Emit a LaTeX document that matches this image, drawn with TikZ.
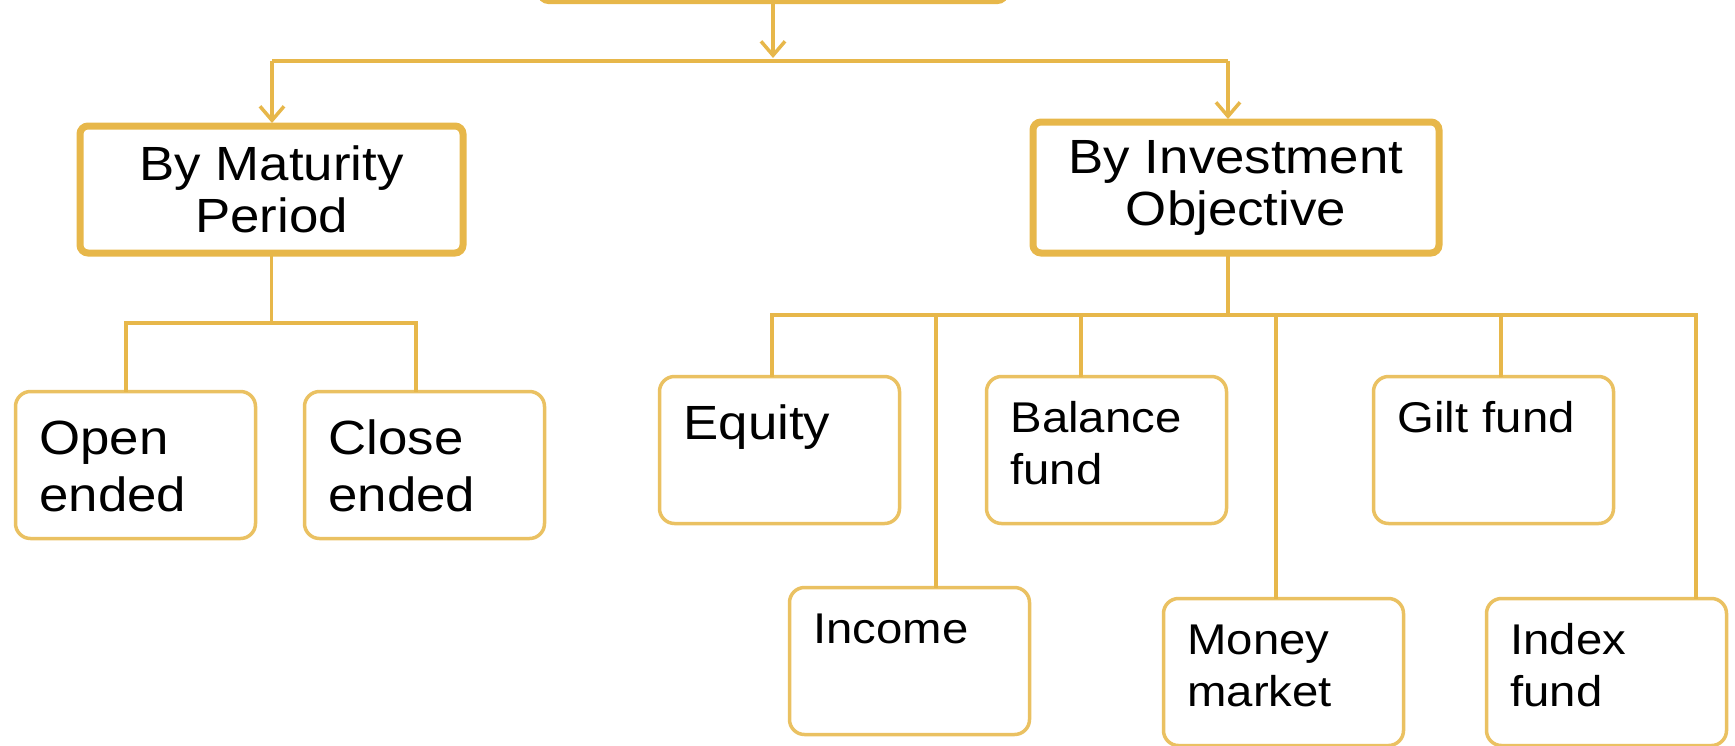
\documentclass[tikz,border=0pt]{standalone}
\usepackage{fontspec}
\setmainfont{Liberation Sans}[FakeStretch=1.1]
\usepackage{tikz}
\usetikzlibrary{positioning, arrows.meta}

\definecolor{gold}{RGB}{231,183,74}
\definecolor{palegold}{RGB}{234,193,98}

\begin{document}
\begin{tikzpicture}[
        every node/.style = {outer sep=0pt},
        branch/.style = {draw=gold, line width=3.5pt, rounded corners=4pt, align=center,
            font=\fontsize{24}{26}\selectfont},
        leaf/.style = {draw=palegold, line width=1.75pt, rounded corners=7.5pt, anchor=north west,
            text width=96pt, align=left, inner xsep=12pt, inner ysep=12pt,
            text height=16pt, text depth=33.5pt, font=\fontsize{21.5}{26}\selectfont},
        big/.style = {font=\fontsize{24}{28.5}\selectfont, text height=19.5pt, text depth=30pt},
        link/.style = {draw=gold, line width=1.75pt},
        pointer/.style = {link, -{Straight Barb[length=7pt, width=12pt]}, shorten >=1.5pt}
    ]
        \useasboundingbox (0,0) rectangle (867.5pt,-372.5pt);

        \node[branch, minimum width=232.5pt, minimum height=60pt] (root) at (386.5pt,29.75pt) {};
        \node[branch, minimum width=191.5pt, minimum height=63.5pt] (maturity) at (135.75pt,-94.75pt) {By Maturity\\Period};
        \node[branch, minimum width=203pt, minimum height=65.5pt] (objective) at (618pt,-93.75pt) {By Investment\\Objective};

        \node[leaf, big] (open) at (7.75pt,-195.75pt) {Open\\ended};
        \node[leaf, big, right = 24.5pt of open] (close) {Close\\ended};

        \node[leaf, big] (equity) at (329.75pt,-188.25pt) {Equity};
        \node[leaf, right = 43.5pt of equity] (balance) {Balance\\fund};
        \node[leaf, right = 73.5pt of balance] (gilt) {Gilt fund};
        \node[leaf] (income) at (394.75pt,-293.75pt) {Income};
        \node[leaf] (money) at (581.75pt,-299.25pt) {Money\\market};
        \node[leaf, right = 41.5pt of money] (index) {Index\\fund};

        % top level
        \coordinate (topbus) at (386.5pt,-30.5pt);
        \coordinate (busleft) at (136pt,-30.5pt);
        \coordinate (busright) at (614pt,-30.5pt);
        \draw[pointer] (root.south) -- (topbus);
        \draw[link] (busleft) -- (busright);
        \draw[pointer] (busleft) -- (busleft |- maturity.north);
        \draw[pointer] (busright) -- (busright |- objective.north);

        % by maturity
        \coordinate[below = 35pt of maturity] (matbus);
        \draw[link] (maturity) -- (matbus);
        \draw[link] ([xshift=-4.75pt]open.north) |- (matbus) -| ([xshift=-4.25pt]close.north);

        % by objective
        \coordinate (objbus) at ([xshift=-4pt, yshift=-31pt]objective.south);
        \draw[link] ([xshift=-4pt]objective.south) -- (objbus);
        \draw[link] ([xshift=-3.75pt]equity.north) |- (objbus) -| ([xshift=44.75pt]index.north);
        \foreach \fund/\dx in {income/13.25pt, balance/-12.75pt, money/-3.75pt, gilt/3.75pt}
            \draw[link] ([xshift=\dx]\fund.north) -- ([xshift=\dx]\fund.north |- objbus);
\end{tikzpicture}
\end{document}
